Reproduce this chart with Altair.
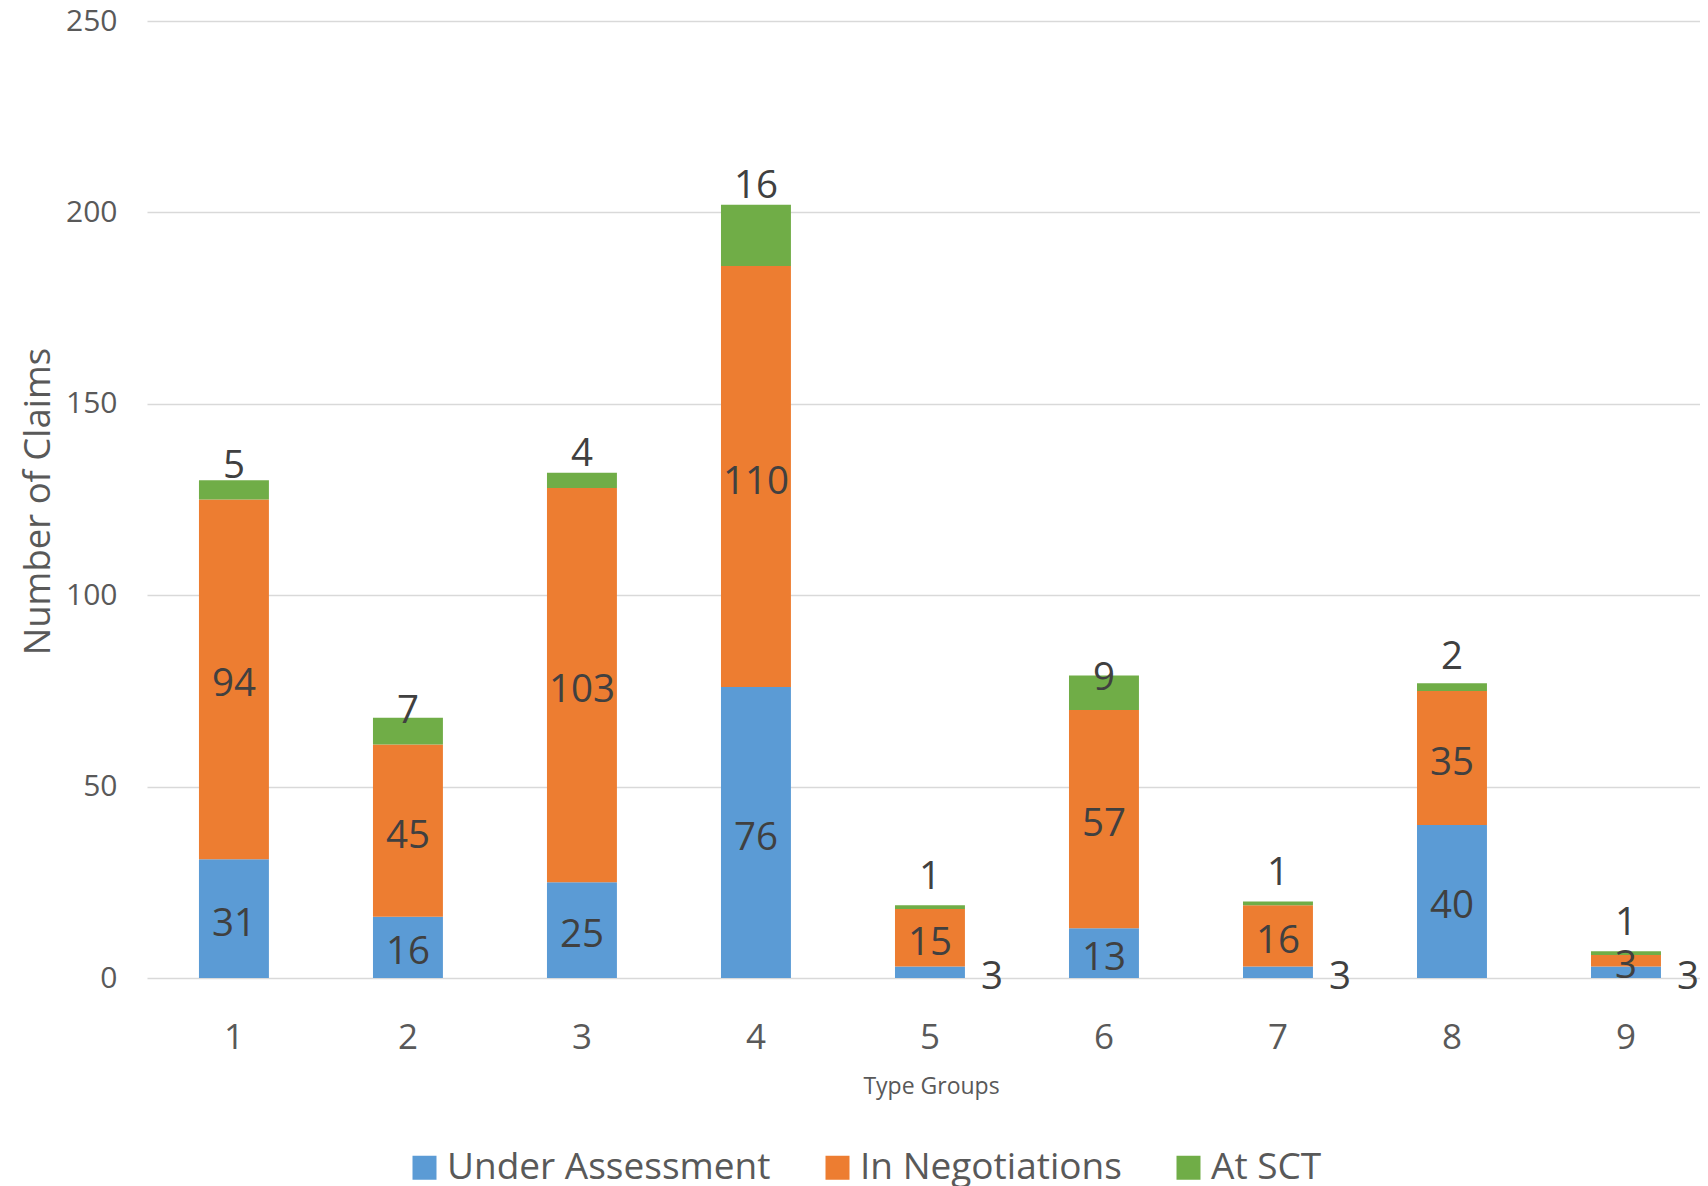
import altair as alt
import pandas as pd

# ---- data ----
groups = ["1", "2", "3", "4", "5", "6", "7", "8", "9"]
under_assessment = [31, 16, 25, 76, 3, 13, 3, 40, 3]
in_negotiations = [94, 45, 103, 110, 15, 57, 16, 35, 3]
at_sct = [5, 7, 4, 16, 1, 9, 1, 2, 1]
series_names = ["Under Assessment", "In Negotiations", "At SCT"]
y_ticks = [0, 50, 100, 150, 200, 250]

# ---- styling ----
colors = ["#5B9BD5", "#ED7D31", "#70AD47"]
# how far (px) each "At SCT" label sits above its bar's top in the reference
sct_label_lift = [16, 9, 21, 21, 30, 0, 30, 28, 30]

PLOT_W, PLOT_H = 1553, 957
Y_MAX = 250
FONT = "Open Sans"

rows = []
for i, g in enumerate(groups):
    for k, (name, vals) in enumerate(zip(series_names, [under_assessment, in_negotiations, at_sct])):
        rows.append({"group": g, "series": name, "value": vals[i], "ord": k,
                     "lift": sct_label_lift[i]})
df = pd.DataFrame(rows)

x_enc = alt.X(
    "group:N",
    sort=groups,
    title="Type Groups",
    scale=alt.Scale(paddingInner=0.598, paddingOuter=0.2615, align=0.571, round=False),
    axis=alt.Axis(
        domain=False, ticks=False, grid=False, labelAngle=0,
        labelFontSize=35, labelColor="#595959", labelFont=FONT, labelPadding=42,
        titleFontSize=23, titleColor="#595959", titleFont=FONT, titleFontWeight="normal",
        titleY=115, titleX=784, titleBaseline="alphabetic",
    ),
)

y_scale = alt.Scale(domain=[0, Y_MAX], nice=False)
y_axis = alt.Axis(
    values=y_ticks, grid=True, gridColor="#D9D9D9", gridWidth=1.5,
    domain=False, ticks=False,
    labelFontSize=30, labelColor="#595959", labelFont=FONT, labelPadding=30,
    titleFontSize=36.5, titleColor="#595959", titleFont=FONT, titleFontWeight="normal",
    titleX=-109, titleY=480, titleAngle=-90, titleBaseline="middle", titleAlign="center",
)


def y_enc(field):
    return alt.Y(field, scale=y_scale, axis=y_axis, title="Number of Claims")


base = alt.Chart(df).transform_stack(
    stack="value", groupby=["group"], as_=["y0", "y1"],
    sort=[alt.SortField("ord", order="ascending")],
)

bars = base.mark_bar().encode(
    x=x_enc,
    y=y_enc("y0:Q"),
    y2="y1:Q",
    color=alt.Color(
        "series:N",
        scale=alt.Scale(domain=series_names, range=colors),
        legend=alt.Legend(
            orient="none", legendX=259, legendY=1128, direction="horizontal",
            title=None, symbolType="square", symbolSize=576, symbolStrokeWidth=0,
            symbolOpacity=1, labelFontSize=37, labelColor="#595959", labelFont=FONT,
            labelOffset=4, columnPadding=48, padding=0, labelLimit=0,
        ),
    ),
    order=alt.Order("ord:Q"),
)

text_style = dict(font=FONT, fontSize=38.5, color="#404040", baseline="middle", align="center")

mid_labels = base.transform_calculate(
    mid="(datum.y0 + datum.y1) / 2"
).transform_filter(
    "datum.ord < 2 && !(datum.ord == 0 && datum.value < 5)"
).mark_text(dy=5, **text_style).encode(
    x=x_enc, y=y_enc("mid:Q"), text="value:Q"
)

small_blue = base.transform_calculate(
    mid="(datum.y0 + datum.y1) / 2"
).transform_filter(
    "datum.ord == 0 && datum.value < 5"
).mark_text(dy=5, dx=62, **text_style).encode(
    x=x_enc, y=y_enc("mid:Q"), text="value:Q"
)

top_labels = base.transform_filter("datum.ord == 2").transform_calculate(
    ly=f"datum.y1 + datum.lift * {Y_MAX} / {PLOT_H}"
).mark_text(dy=2, **text_style).encode(
    x=x_enc, y=y_enc("ly:Q"), text="value:Q"
)

chart = alt.layer(bars, mid_labels, small_blue, top_labels).properties(
    width=PLOT_W, height=PLOT_H,
    autosize=alt.AutoSizeParams(type="none"),
    padding={"left": 139, "top": 13, "right": 0, "bottom": 208},
).configure(font=FONT).configure_view(stroke="transparent")

chart.save("out.html", embed_options={"renderer": "svg", "actions": False})
